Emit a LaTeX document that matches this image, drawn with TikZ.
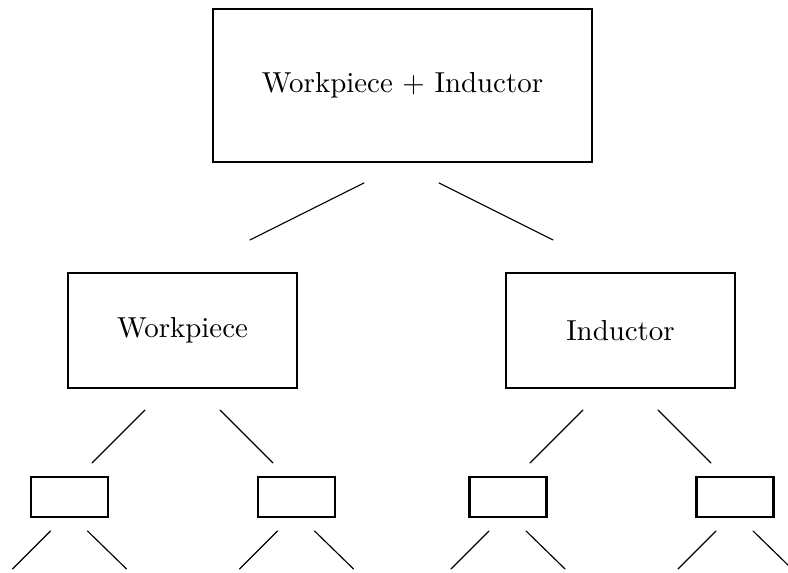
\documentclass[tikz,border=0pt]{standalone}
\usepackage{tikz}
\usetikzlibrary{arrows}
\usetikzlibrary{shapes,positioning}

\tikzset{>=stealth,
  bigbox/.style={draw, line width=0.95pt, inner sep=0pt, outer sep=0pt,
    minimum width=79.2pt, minimum height=39.8pt},
  smallbox/.style={draw, line width=0.95pt, inner sep=0pt, outer sep=0pt,
    minimum width=26.6pt, minimum height=13.8pt},
  leg/.style={thin}}

\begin{document}
\begin{tikzpicture}[x=0.346pt, y=-0.346pt, line cap=round]

	\useasboundingbox (0,0) rectangle (788,572);
	\clip (0,0) rectangle (788,572);

	\node [bigbox, minimum width=131.1pt, minimum height=52.9pt] (top) at (402.5,85.5) {Workpiece $+$ Inductor};

	\node [bigbox] (work) at (182.5,330.5) {Workpiece};
	\node [bigbox] (ind) at (620.5,330.5) {Inductor};

	\node [smallbox] (w1) at (69.5,497) {};
	\node [smallbox] (w2) at (296.5,497) {};
	\node [smallbox] (i1) at (508,497) {};
	\node [smallbox] (i2) at (735,497) {};


	\draw [leg] ([shift={(-38.5,21)}]top.south) -- ([shift={(-152.5,78)}]top.south);
	\draw [leg] ([shift={(36.5,21)}]top.south) -- ([shift={(150.5,78)}]top.south);

	\draw [leg] ([shift={(-37.5,22)}]work.south) -- ([shift={(-90.5,75)}]work.south);
	\draw [leg] ([shift={(37.5,22)}]work.south) -- ([shift={(90.5,75)}]work.south);
	\draw [leg] ([shift={(-37.5,22)}]ind.south) -- ([shift={(-90.5,75)}]ind.south);
	\draw [leg] ([shift={(37.5,22)}]ind.south) -- ([shift={(90.5,75)}]ind.south);

	% legs under the small boxes
	\foreach \b in {w1,w2,i1,i2}{
		\draw [leg] ([shift={(-19,14)}]\b.south) -- ([shift={(-57,52)}]\b.south);
		\draw [leg] ([shift={(18,14)}]\b.south) -- ([shift={(57,52)}]\b.south);
	}

\end{tikzpicture}
\end{document}
